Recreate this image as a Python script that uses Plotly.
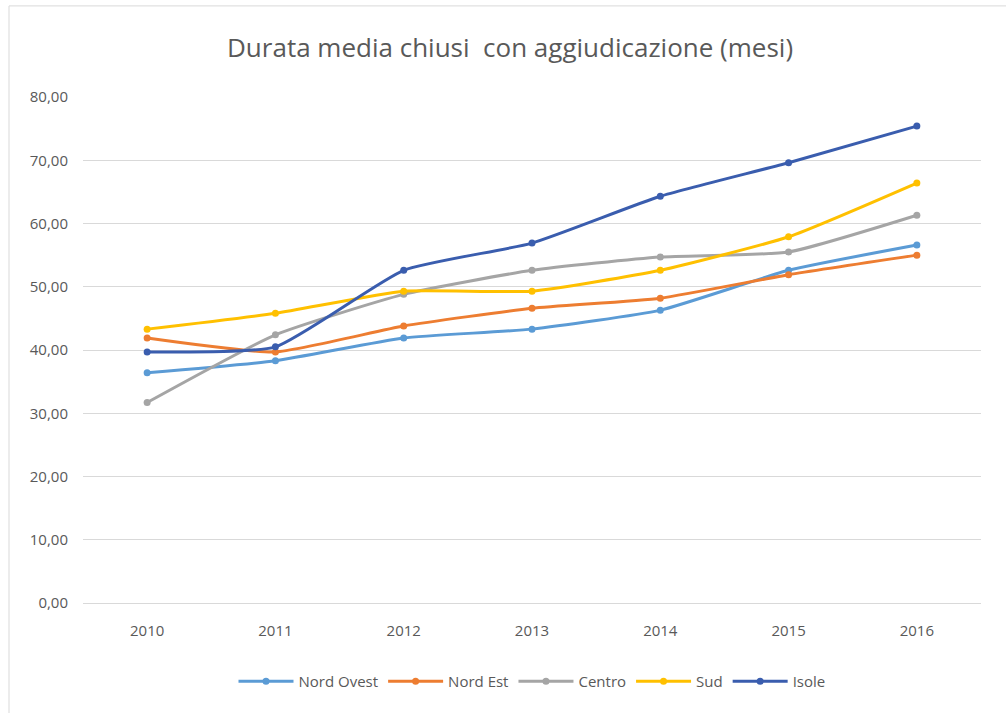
import plotly.graph_objects as go

# Anni di riferimento
anni = ["2010", "2011", "2012", "2013", "2014", "2015", "2016"]

# Durata media (mesi) per area geografica
nord_ovest = [36.4, 38.3, 41.9, 43.3, 46.3, 52.6, 56.6]
nord_est = [41.9, 39.7, 43.8, 46.6, 48.2, 51.9, 55.0]
centro = [31.7, 42.4, 48.8, 52.6, 54.7, 55.5, 61.3]
sud = [43.3, 45.8, 49.3, 49.3, 52.6, 57.9, 66.4]
isole = [39.7, 40.5, 52.6, 56.9, 64.3, 69.6, 75.4]

serie = [
    ("Nord Ovest", nord_ovest, "#5B9BD5"),
    ("Nord Est", nord_est, "#ED7D31"),
    ("Centro", centro, "#A5A5A5"),
    ("Sud", sud, "#FFC000"),
    ("Isole", isole, "#3A5DAE"),
]

fig = go.Figure()
for nome, valori, colore in serie:
    fig.add_trace(go.Scatter(
        x=anni, y=valori, name=nome, mode="lines+markers",
        line=dict(color=colore, width=3, shape="spline", smoothing=0.5),
        marker=dict(color=colore, size=7, symbol="circle"),
    ))

testo = "#595959"
fig.update_layout(
    width=1006, height=713,
    margin=dict(l=83, r=25, t=97, b=110),
    paper_bgcolor="white", plot_bgcolor="white",
    separators=",.",
    font=dict(family="Open Sans, Lato, sans-serif", size=15, color=testo),
    title=dict(
        text="Durata media chiusi  con aggiudicazione (mesi)",
        x=0.507, xanchor="center", y=0.933, yanchor="middle",
        font=dict(family="Open Sans, sans-serif", size=26, color=testo),
    ),
    xaxis=dict(
        type="category", range=[-0.5, 6.5], showgrid=False, zeroline=False,
        showline=True, linecolor="#D9D9D9", linewidth=1,
        ticks="", ticklabelstandoff=14,
        tickfont=dict(size=15, color=testo),
    ),
    yaxis=dict(
        range=[0, 80], dtick=10, tickformat=".2f",
        showgrid=True, gridcolor="#D9D9D9", gridwidth=1,
        zeroline=False, showline=False, ticks="",
        ticklabelstandoff=14,
        tickfont=dict(size=15, color=testo),
    ),
    legend=dict(
        orientation="h", x=0.5, xanchor="center", y=-0.155, yanchor="middle",
        font=dict(size=15, color=testo), itemwidth=55,
        tracegroupgap=0,
    ),
    shapes=[
        dict(type="rect", xref="paper", yref="paper",
             x0=-0.0824, x1=1.2, y0=-0.5, y1=1.18,
             line=dict(color="#D9D9D9", width=1), layer="below"),
    ],
)

fig.write_html("out.html")
